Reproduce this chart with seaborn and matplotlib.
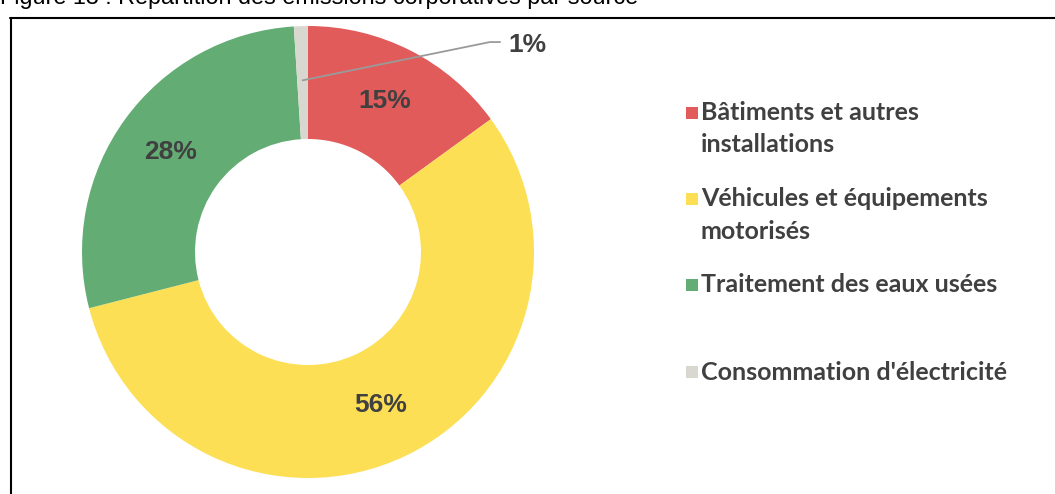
import numpy as np
import matplotlib.pyplot as plt
import seaborn as sns
from matplotlib.patches import Rectangle
from matplotlib.lines import Line2D

# Données
sources = ["Bâtiments et autres\ninstallations",
           "Véhicules et équipements\nmotorisés",
           "Traitement des eaux usées",
           "Consommation d'électricité"]
parts = [15, 56, 28, 1]
couleurs = ["#E15B5B", "#FCDF55", "#63AD74", "#D9D8D0"]
titre = "Figure 13 : Répartition des émissions corporatives par source"

sns.set_style("white")
plt.rcParams['font.family'] = ['Liberation Sans', 'DejaVu Sans']

W, H = 1055, 494
fig = plt.figure(figsize=(W / 100, H / 100), dpi=100)
fig.patch.set_facecolor('white')

# ==============================================================================
# Anneau
# ==============================================================================
ax = fig.add_axes([82 / W, 16 / H, 452 / W, 452 / H])
wedges, _ = ax.pie(parts, colors=couleurs, startangle=90, counterclock=False,
                   radius=1, wedgeprops=dict(width=0.5, linewidth=0))
ax.set_xlim(-1, 1)
ax.set_ylim(-1, 1)
ax.axis('off')

gris_texte = '#404040'
for w, v in zip(wedges, parts):
    ang = np.deg2rad((w.theta1 + w.theta2) / 2)
    x, y = np.cos(ang), np.sin(ang)
    if v >= 5:
        ax.text(0.75 * x, 0.75 * y, f"{v}%", ha='center', va='center',
                fontsize=19, fontweight='bold', color=gris_texte)
    else:
        # petite part : étiquette déportée avec ligne de rappel
        ax.plot([0.76 * x, 0.805, 0.85], [0.76 * y, 0.929, 0.929],
                color='#9a9a9a', lw=1.3, clip_on=False)
        ax.text(0.885, 0.915, f"{v}%", ha='left', va='center',
                fontsize=19, fontweight='bold', color=gris_texte, clip_on=False)

# ==============================================================================
# Légende manuelle
# ==============================================================================
y_items = [113, 199, 285, 372]
for src, c, yp in zip(sources, couleurs, y_items):
    fig.add_artist(Rectangle((686 / W, 1 - (yp + 6) / H), 12 / W, 12 / H,
                             transform=fig.transFigure, facecolor=c,
                             edgecolor='none'))
    for i, ligne in enumerate(src.split("\n")):
        fig.text(701 / W, 1 - (yp + 32 * i) / H, ligne, ha='left', va='center',
                 fontsize=18, fontweight='bold', color=gris_texte,
                 family=['Lato', 'DejaVu Sans'])

# Cadre et titre (coupé en haut comme dans l'original)
fig.add_artist(Line2D([10.5 / W, 10.5 / W], [0, 1 - 18 / H], transform=fig.transFigure,
                      color='black', lw=1.5))
fig.add_artist(Line2D([10 / W, 1], [1 - 18.5 / H, 1 - 18.5 / H], transform=fig.transFigure,
                      color='black', lw=1.5))
fig.text(0.0, 1 - 4 / H, titre, ha='left', va='baseline', fontsize=16.8, color='black')

plt.savefig('out.png', dpi=100)
